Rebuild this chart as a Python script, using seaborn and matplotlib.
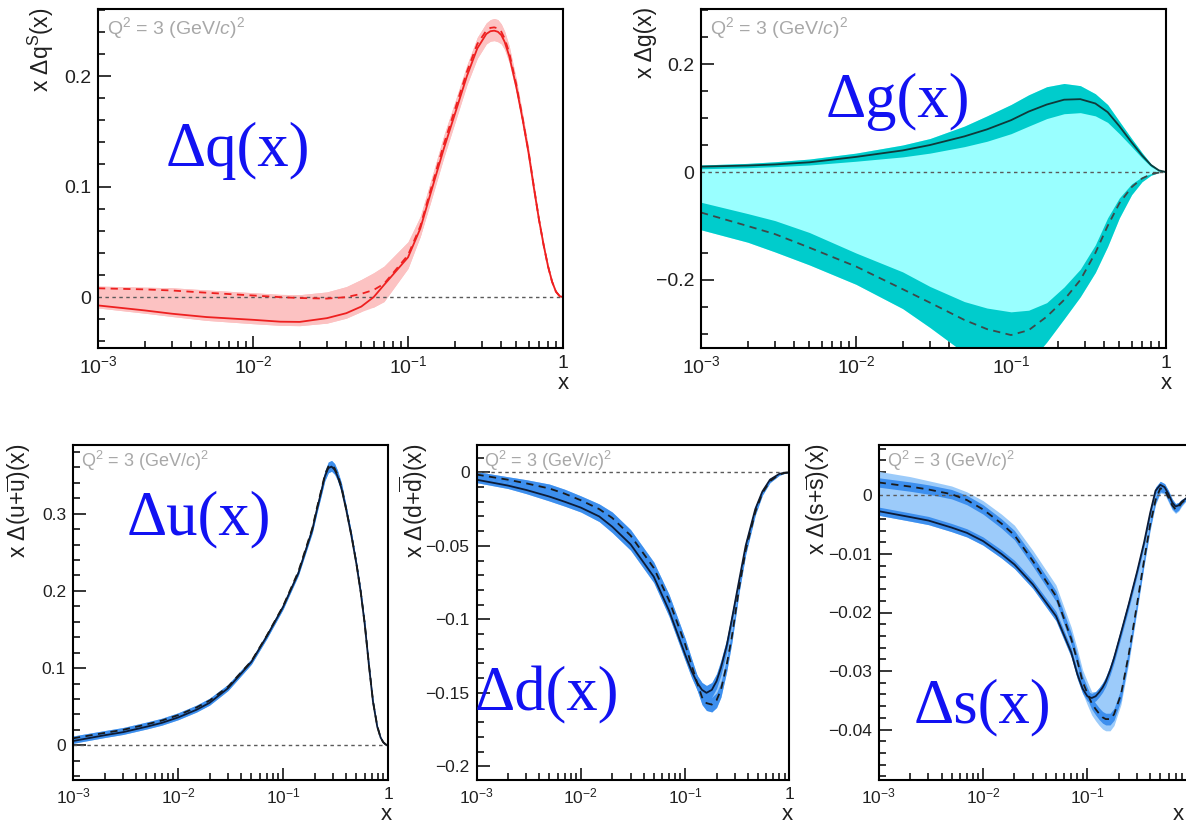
import numpy as np
import matplotlib
matplotlib.use("Agg")
import matplotlib.pyplot as plt
import seaborn as sns
from matplotlib.ticker import MultipleLocator, LogLocator, NullFormatter, FuncFormatter

# ------------------------------------------------------------------ data
# --- x*Delta q^S (singlet), red
x_q = [0.001, 0.002, 0.003, 0.005, 0.01, 0.015, 0.02, 0.03, 0.04, 0.05, 0.06, 0.07, 0.1, 0.12,
       0.14, 0.17, 0.2, 0.24, 0.28, 0.32, 0.34, 0.36, 0.38, 0.4, 0.42, 0.45, 0.5, 0.55, 0.6, 0.65,
       0.7, 0.75, 0.8, 0.85, 0.9, 0.95, 1.0]
solid_q = [-0.0075, -0.012, -0.015, -0.018, -0.0205, -0.0222, -0.0224, -0.019, -0.0145, -0.0085,
           0.0, 0.011, 0.036, 0.062, 0.094, 0.134, 0.165, 0.200, 0.225, 0.238, 0.2405, 0.241,
           0.240, 0.237, 0.231, 0.218, 0.190, 0.160, 0.130, 0.098, 0.070, 0.047, 0.028, 0.014,
           0.005, 0.001, 0.0]
dashed_q = [0.008, 0.007, 0.006, 0.004, 0.0015, 0.0, -0.0008, -0.0013, 0.0, 0.003, 0.0065, 0.012,
            0.038, 0.064, 0.097, 0.138, 0.169, 0.204, 0.229, 0.241, 0.2435, 0.244, 0.243, 0.240,
            0.234, 0.221, 0.192, 0.161, 0.131, 0.099, 0.070, 0.047, 0.028, 0.014, 0.005, 0.001,
            0.0]
err_solid_q = [0.0023, 0.0025, 0.0025, 0.003, 0.0035, 0.0033, 0.0034, 0.0045, 0.0045, 0.0045, 0.005,
               0.005, 0.006, 0.007, 0.008, 0.008, 0.008, 0.008, 0.009, 0.009, 0.009, 0.009, 0.009,
               0.008, 0.007, 0.006, 0.005, 0.004, 0.004, 0.003, 0.003, 0.002, 0.002, 0.001, 0.001,
               0.0005, 0.0]
err_dashed_q = [0.002, 0.002, 0.0025, 0.0025, 0.0025, 0.0025, 0.003, 0.006, 0.0095, 0.013, 0.0155,
                0.016, 0.012, 0.009, 0.008, 0.008, 0.007, 0.006, 0.006, 0.007, 0.0075, 0.008,
                0.008, 0.007, 0.0065, 0.006, 0.005, 0.004, 0.004, 0.003, 0.003, 0.002, 0.002,
                0.001, 0.001, 0.0005, 0.0]

# --- x*Delta g, cyan
x_g = [0.001, 0.002, 0.003, 0.005, 0.01, 0.02, 0.03, 0.05, 0.07, 0.1, 0.13, 0.17, 0.22, 0.28,
       0.35, 0.42, 0.5, 0.6, 0.7, 0.8, 0.9, 1.0]
solid_g = [0.010, 0.012, 0.014, 0.018, 0.028, 0.040, 0.050, 0.066, 0.079, 0.096, 0.112, 0.125,
           0.134, 0.135, 0.127, 0.111, 0.085, 0.055, 0.031, 0.013, 0.003, 0.0]
solid_hi_g = [0.013, 0.016, 0.019, 0.024, 0.035, 0.050, 0.062, 0.085, 0.104, 0.125, 0.143, 0.158,
              0.164, 0.160, 0.145, 0.125, 0.094, 0.062, 0.036, 0.015, 0.004, 0.0]
solid_lo_g = [0.006, 0.008, 0.010, 0.013, 0.020, 0.028, 0.035, 0.047, 0.057, 0.071, 0.085, 0.099,
              0.108, 0.110, 0.104, 0.092, 0.071, 0.047, 0.026, 0.010, 0.002, 0.0]
dashed_g = [-0.075, -0.100, -0.115, -0.140, -0.175, -0.217, -0.242, -0.274, -0.291, -0.302, -0.293,
            -0.268, -0.237, -0.200, -0.150, -0.100, -0.058, -0.028, -0.012, -0.004, -0.001, 0.0]
dashed_hi_g = [-0.056, -0.077, -0.090, -0.112, -0.150, -0.185, -0.212, -0.240, -0.252, -0.259,
               -0.256, -0.242, -0.213, -0.180, -0.135, -0.085, -0.048, -0.022, -0.009, -0.003,
               -0.001, 0.0]
dashed_lo_g = [-0.107, -0.130, -0.148, -0.172, -0.208, -0.253, -0.288, -0.335, -0.360, -0.370,
               -0.355, -0.315, -0.272, -0.231, -0.186, -0.138, -0.085, -0.042, -0.018, -0.006,
               -0.001, 0.0]

# --- x*Delta(u+ubar), blue
x_u = [0.001, 0.002, 0.003, 0.005, 0.007, 0.01, 0.015, 0.02, 0.03, 0.05, 0.07, 0.1, 0.14, 0.19,
       0.21, 0.23, 0.25, 0.27, 0.29, 0.31, 0.33, 0.36, 0.4, 0.45, 0.5, 0.55, 0.6, 0.66, 0.72,
       0.79, 0.85, 0.9, 0.95, 1.0]
solid_u = [0.0055, 0.013, 0.017, 0.024, 0.029, 0.036, 0.046, 0.055, 0.074, 0.108, 0.141, 0.179,
           0.223, 0.279, 0.305, 0.327, 0.348, 0.359, 0.361, 0.357, 0.349, 0.333, 0.305, 0.270,
           0.235, 0.198, 0.157, 0.102, 0.056, 0.024, 0.010, 0.004, 0.001, 0.0]
dashed_u = [0.009, 0.016, 0.020, 0.027, 0.032, 0.039, 0.049, 0.058, 0.076, 0.109, 0.142, 0.180,
            0.225, 0.281, 0.307, 0.329, 0.350, 0.361, 0.363, 0.359, 0.351, 0.335, 0.306, 0.271,
            0.236, 0.199, 0.158, 0.103, 0.057, 0.025, 0.010, 0.004, 0.001, 0.0]
err_u = [0.003, 0.003, 0.003, 0.003, 0.003, 0.003, 0.003, 0.003, 0.003, 0.003, 0.003, 0.003, 0.003,
         0.004, 0.0045, 0.005, 0.0055, 0.006, 0.006, 0.006, 0.0055, 0.005, 0.004, 0.004, 0.003,
         0.003, 0.003, 0.002, 0.002, 0.001, 0.001, 0.001, 0.0005, 0.0]

# --- x*Delta(d+dbar), blue
x_d = [0.001, 0.002, 0.003, 0.005, 0.007, 0.01, 0.015, 0.02, 0.03, 0.05, 0.07, 0.1, 0.115, 0.13,
       0.145, 0.16, 0.18, 0.2, 0.22, 0.25, 0.28, 0.33, 0.38, 0.47, 0.55, 0.65, 0.8, 0.9, 1.0]
solid_d = [-0.005, -0.009, -0.012, -0.0165, -0.020, -0.024, -0.030, -0.037, -0.049, -0.071,
           -0.094, -0.124, -0.135, -0.143, -0.148, -0.150, -0.148, -0.142, -0.133, -0.118, -0.100,
           -0.073, -0.050, -0.025, -0.013, -0.005, -0.001, -0.0003, 0.0]
dashed_d = [-0.0015, -0.005, -0.0075, -0.011, -0.0145, -0.019, -0.025, -0.031, -0.043, -0.065,
            -0.087, -0.117, -0.131, -0.143, -0.153, -0.157, -0.158, -0.155, -0.148, -0.131,
            -0.112, -0.078, -0.053, -0.027, -0.014, -0.006, -0.0015, -0.0004, 0.0]
err_d = [0.002, 0.002, 0.0025, 0.003, 0.003, 0.003, 0.0035, 0.004, 0.004, 0.004, 0.004, 0.004,
         0.0045, 0.005, 0.005, 0.005, 0.005, 0.005, 0.005, 0.0045, 0.004, 0.003, 0.003, 0.002,
         0.0015, 0.001, 0.0005, 0.0003, 0.0]

# --- x*Delta(s+sbar), blue
x_s = [0.001, 0.002, 0.003, 0.005, 0.007, 0.01, 0.015, 0.02, 0.03, 0.05, 0.07, 0.08, 0.09, 0.1,
       0.11, 0.12, 0.13, 0.14, 0.15, 0.165, 0.18, 0.21, 0.25, 0.3, 0.35, 0.4, 0.45, 0.5, 0.55,
       0.6, 0.65, 0.7, 0.75, 0.8, 0.9, 1.0]
solid_s = [-0.0027, -0.0037, -0.0043, -0.0055, -0.0064, -0.0078, -0.0100, -0.0118, -0.0152,
           -0.0206, -0.0268, -0.0305, -0.0330, -0.0343, -0.0346, -0.0343, -0.0336, -0.0328,
           -0.0318, -0.0299, -0.0278, -0.0235, -0.0185, -0.0130, -0.0080, -0.0030, 0.0008, 0.0018,
           0.0014, 0.0002, -0.0012, -0.0019, -0.0017, -0.0011, -0.0004, 0.0]
dashed_s = [0.0022, 0.0015, 0.0010, 0.0002, -0.0008, -0.0024, -0.0048, -0.0068, -0.0112, -0.0172,
            -0.0245, -0.0282, -0.0318, -0.0338, -0.0355, -0.0365, -0.0373, -0.0379, -0.0382,
            -0.0382, -0.0374, -0.0340, -0.0270, -0.0185, -0.0110, -0.0050, -0.0008, 0.0012,
            0.0010, -0.0004, -0.0017, -0.0024, -0.0020, -0.0013, -0.0005, 0.0]
err_solid_s = [0.0007, 0.0007, 0.0007, 0.0007, 0.0007, 0.0007, 0.0007, 0.0007, 0.0007, 0.0008,
               0.0008, 0.0008, 0.0008, 0.0008, 0.0008, 0.0008, 0.0008, 0.0008, 0.0008, 0.0008,
               0.0008, 0.0008, 0.0008, 0.0007, 0.0007, 0.0007, 0.0006, 0.0006, 0.0006, 0.0006,
               0.0006, 0.0005, 0.0005, 0.0004, 0.0002, 0.0]
err_dashed_s = [0.0008, 0.0008, 0.0008, 0.0008, 0.0008, 0.0008, 0.0008, 0.0008, 0.0009, 0.0009,
                0.001, 0.001, 0.001, 0.001, 0.001, 0.001, 0.001, 0.001, 0.001, 0.001, 0.001,
                0.001, 0.0009, 0.0008, 0.0008, 0.0007, 0.0006, 0.0006, 0.0006, 0.0006, 0.0006,
                0.0005, 0.0005, 0.0004, 0.0002, 0.0]
err_outer_s = [0.0019, 0.0017, 0.0015, 0.0014, 0.0014, 0.0015, 0.0016, 0.0017, 0.0018, 0.0019,
               0.002, 0.002, 0.002, 0.002, 0.002, 0.002, 0.002, 0.002, 0.002, 0.002, 0.0019,
               0.0017, 0.0015, 0.0012, 0.001, 0.001, 0.0008, 0.0008, 0.0008, 0.0008, 0.0008,
               0.0007, 0.0007, 0.0006, 0.0003, 0.0]

x_ticks = [1e-3, 1e-2, 1e-1, 1.0]
x_ticklabels = [r"$10^{-3}$", r"$10^{-2}$", r"$10^{-1}$", "1"]
q2_text = r"Q$^{2}$ = 3 (GeV/$c$)$^{2}$"

# ------------------------------------------------------------------ style
sns.set_theme(style="ticks")
plt.rcParams["font.family"] = ["Liberation Sans", "DejaVu Sans"]
plt.rcParams["mathtext.fontset"] = "custom"
plt.rcParams["mathtext.rm"] = "Liberation Sans"
plt.rcParams["mathtext.it"] = "Liberation Sans:italic"
plt.rcParams["mathtext.bf"] = "Liberation Sans:bold"

W, H = 1186, 824
fig = plt.figure(figsize=(W / 100, H / 100), dpi=100)
fig.patch.set_facecolor("white")

RED_LIGHT = "#fcc2c2"
RED_LINE = "#ee2020"
CY_LIGHT = "#99ffff"
CY_DARK = "#00cccc"
BL_LIGHT = "#9ccbfa"
BL_DARK = "#3d8fee"


def sym(line, err):
    a = np.asarray(line, float)
    e = np.asarray(err, float)
    return a - e, a + e


panels = [
    dict(box=(98, 563, 9, 348), ylim=(-0.046, 0.2606), major=0.1, minor=0.02,
         x=x_q, solid=solid_q, dashed=dashed_q,
         s_band=sym(solid_q, err_solid_q), d_band=sym(dashed_q, err_dashed_q), d_outer=None,
         light=RED_LIGHT, dark=RED_LIGHT, c_solid=RED_LINE, c_dashed=RED_LINE,
         ylabel="x Δq$^{\\mathrm{S}}$(x)", ylab_x=-0.090, tick_fs=14,
         big="Δq(x)", big_xy=(166, 166), q2_xy=(0.02, 0.944), q2_fs=14,
         xlab_xy=(1.012, -0.074), xlabels=x_ticklabels),
    dict(box=(701, 1166, 9, 348), ylim=(-0.326, 0.302), major=0.2, minor=0.05,
         x=x_g, solid=solid_g, dashed=dashed_g,
         s_band=(solid_lo_g, solid_hi_g), d_band=(dashed_lo_g, dashed_hi_g), d_outer=None,
         light=CY_LIGHT, dark=CY_DARK, c_solid="#0f3a3a", c_dashed="#3e4848",
         ylabel="x Δg(x)", ylab_x=-0.095, tick_fs=14,
         big="Δg(x)", big_xy=(826, 117), q2_xy=(0.02, 0.944), q2_fs=14,
         xlab_xy=(1.012, -0.074), xlabels=x_ticklabels),
    dict(box=(73, 388, 445, 780), ylim=(-0.045, 0.389), major=0.1, minor=0.02,
         x=x_u, solid=solid_u, dashed=dashed_u,
         s_band=sym(solid_u, err_u), d_band=sym(dashed_u, err_u), d_outer=None,
         light=BL_LIGHT, dark=BL_DARK, c_solid="#0c1c38", c_dashed="#1a1a1a",
         ylabel="x Δ(u+$\\overline{\\mathrm{u}}$)(x)", ylab_x=-0.127, tick_fs=12.5,
         big="Δu(x)", big_xy=(127, 534), q2_xy=(0.025, 0.952), q2_fs=13,
         xlab_xy=(1.012, -0.072), xlabels=x_ticklabels),
    dict(box=(476.5, 789.5, 445, 780), ylim=(-0.2093, 0.0186), major=0.05, minor=0.01,
         x=x_d, solid=solid_d, dashed=dashed_d,
         s_band=sym(solid_d, err_d), d_band=sym(dashed_d, err_d), d_outer=None,
         light=BL_LIGHT, dark=BL_DARK, c_solid="#0c1c38", c_dashed="#1a1a1a",
         ylabel="x Δ(d+$\\overline{\\mathrm{d}}$)(x)", ylab_x=-0.149, tick_fs=12.5,
         big="Δd(x)", big_xy=(475, 710), q2_xy=(0.025, 0.952), q2_fs=13,
         xlab_xy=(1.012, -0.072), xlabels=x_ticklabels),
    dict(box=(878.7, 1191.7, 445, 780), ylim=(-0.0486, 0.0086), major=0.01, minor=0.002,
         x=x_s, solid=solid_s, dashed=dashed_s,
         s_band=sym(solid_s, err_solid_s), d_band=sym(dashed_s, err_dashed_s),
         d_outer=sym(dashed_s, err_outer_s),
         light=BL_LIGHT, dark=BL_DARK, c_solid="#0c1c38", c_dashed="#1a1a1a",
         ylabel="x Δ(s+$\\overline{\\mathrm{s}}$)(x)", ylab_x=-0.149, tick_fs=12.5,
         big="Δs(x)", big_xy=(914, 722), q2_xy=(0.025, 0.952), q2_fs=13,
         xlab_xy=(0.976, -0.072), xlabels=x_ticklabels[:3] + [""]),
]


def yfmt(v, pos):
    v = round(v, 6)
    if abs(v) < 1e-9:
        return "0"
    return f"{v:g}".replace("-", "\u2212")


for p in panels:
    l, r, t, b = p["box"]
    ax = fig.add_axes([l / W, 1 - b / H, (r - l) / W, (b - t) / H])
    ax.set_xscale("log")
    ax.set_xlim(1e-3, 1.0)
    ax.set_ylim(*p["ylim"])
    x = np.asarray(p["x"], float)
    s_lo, s_hi = (np.asarray(v, float) for v in p["s_band"])
    d_lo, d_hi = (np.asarray(v, float) for v in p["d_band"])
    if p["d_outer"] is None:
        o_lo, o_hi = d_lo, d_hi
    else:
        o_lo, o_hi = (np.asarray(v, float) for v in p["d_outer"])
    env_lo = np.minimum(s_lo, o_lo)
    env_hi = np.maximum(s_hi, o_hi)
    ax.fill_between(x, env_lo, env_hi, color=p["light"], lw=0, zorder=1)
    ax.fill_between(x, s_lo, s_hi, color=p["dark"], lw=0, zorder=2)
    ax.fill_between(x, d_lo, d_hi, color=p["dark"], lw=0, zorder=2)
    ax.axhline(0, color="#5a5a5a", lw=1.0, ls=(0, (2.5, 2.5)), zorder=3)
    sns.lineplot(x=x, y=np.asarray(p["solid"], float), ax=ax, color=p["c_solid"], lw=1.3,
                 estimator=None, errorbar=None, legend=False, zorder=4)
    sns.lineplot(x=x, y=np.asarray(p["dashed"], float), ax=ax, color=p["c_dashed"], lw=1.3,
                 linestyle=(0, (4, 3)), estimator=None, errorbar=None, legend=False, zorder=4)

    # axes cosmetics (ROOT-like)
    for sp in ax.spines.values():
        sp.set_visible(True)
        sp.set_color("black")
        sp.set_linewidth(1.5)
        sp.set_zorder(6)
    ax.set_xticks(x_ticks)
    ax.set_xticklabels(p["xlabels"])
    ax.xaxis.set_minor_locator(LogLocator(base=10, subs=np.arange(2, 10)))
    ax.xaxis.set_minor_formatter(NullFormatter())
    ax.yaxis.set_major_locator(MultipleLocator(p["major"]))
    ax.yaxis.set_minor_locator(MultipleLocator(p["minor"]))
    ax.yaxis.set_major_formatter(FuncFormatter(yfmt))
    ax.tick_params(which="both", direction="in", top=False, right=False, color="black",
                   width=1.1, labelsize=p["tick_fs"], labelcolor="#202020")
    ax.tick_params(which="major", length=9, pad=5)
    ax.tick_params(which="minor", length=5)
    ax.set_xlim(1e-3, 1.0)
    ax.set_ylim(*p["ylim"])
    ax.grid(False)

    ax.set_ylabel(p["ylabel"], fontsize=16.5, loc="top", color="#202020")
    ax.yaxis.set_label_coords(p["ylab_x"], 1.005)
    ax.set_xlabel("x", fontsize=16, loc="right", color="#202020")
    ax.xaxis.set_label_coords(*p["xlab_xy"])

    ax.text(p["q2_xy"][0], p["q2_xy"][1], q2_text, transform=ax.transAxes, color="#a8a8a8",
            fontsize=p["q2_fs"], ha="left", va="center", zorder=7)

    bx, by = p["big_xy"]
    fig.text(bx / W, 1 - by / H, p["big"], fontsize=45, family="Liberation Serif",
             color="#1212f2", ha="left", va="baseline", zorder=10)

fig.savefig("out.png", dpi=100, facecolor="white")
